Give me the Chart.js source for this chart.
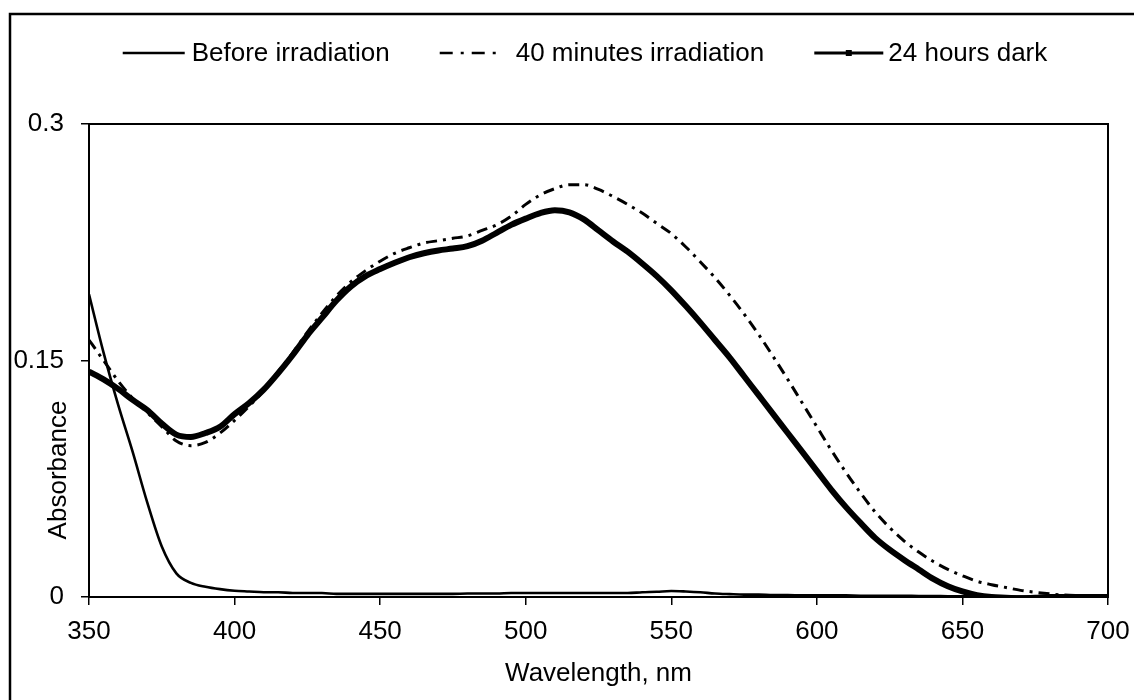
<!DOCTYPE html>
<html>
<head>
<meta charset="utf-8">
<script src="https://cdn.jsdelivr.net/npm/chart.js@4.4.0/dist/chart.umd.min.js"></script>
<style>
  html, body { margin: 0; padding: 0; background: #fff; }
  #wrap { width: 1134px; height: 700px; }
</style>
</head>
<body>
<div id="wrap"><canvas id="grafica" width="1134" height="700"></canvas></div>
<script>
// Longitudes de onda (nm)
const wavelengths = [
  350, 355, 360, 365, 370, 375, 380, 385, 390, 395,
  400, 405, 410, 415, 420, 425, 430, 435, 440, 445,
  450, 455, 460, 465, 470, 475, 480, 485, 490, 495,
  500, 505, 510, 515, 520, 525, 530, 535, 540, 545,
  550, 555, 560, 565, 570, 575, 580, 585, 590, 595,
  600, 605, 610, 615, 620, 625, 630, 635, 640, 645,
  650, 655, 660, 665, 670, 675, 680, 685, 690, 695, 700
];

const beforeIrradiation = [
  0.192, 0.155, 0.122, 0.092, 0.060, 0.032, 0.015, 0.009, 0.0065, 0.005,
  0.004, 0.0035, 0.003, 0.003, 0.0025, 0.0025, 0.0025, 0.002, 0.002, 0.002,
  0.002, 0.002, 0.002, 0.002, 0.002, 0.002, 0.0022, 0.0022, 0.0022, 0.0025,
  0.0025, 0.0025, 0.0025, 0.0025, 0.0025, 0.0025, 0.0025, 0.0025, 0.003, 0.0033,
  0.0038, 0.0035, 0.003, 0.0022, 0.0018, 0.0015, 0.0015, 0.0012, 0.0012, 0.001,
  0.001, 0.001, 0.001, 0.0008, 0.0008, 0.0008, 0.0008, 0.0006, 0.0006, 0.0005,
  0.0005, 0.0005, 0.0004, 0.0004, 0.0003, 0.0003, 0.0003, 0.0002, 0.0002, 0.0001, 0.0001
];

const minutes40 = [
  0.163, 0.150, 0.137, 0.126, 0.117, 0.108, 0.099, 0.096, 0.098, 0.104,
  0.112, 0.121, 0.131, 0.143, 0.155, 0.168, 0.180, 0.191, 0.200, 0.207,
  0.213, 0.218, 0.2215, 0.2245, 0.226, 0.2275, 0.229, 0.2325, 0.236, 0.2415,
  0.249, 0.255, 0.259, 0.2615, 0.2615, 0.2585, 0.254, 0.249, 0.2435, 0.237,
  0.2305, 0.222, 0.2125, 0.2025, 0.1915, 0.1795, 0.1665, 0.1525, 0.138, 0.123,
  0.108, 0.093, 0.079, 0.066, 0.054, 0.044, 0.0355, 0.0285, 0.0225, 0.0175,
  0.0135, 0.010, 0.0078, 0.006, 0.0042, 0.003, 0.002, 0.0012, 0.0008, 0.0005, 0.0003
];

const hours24Dark = [
  0.143, 0.138, 0.132, 0.125, 0.1186, 0.110, 0.103, 0.1015, 0.104, 0.108,
  0.116, 0.123, 0.1315, 0.142, 0.1535, 0.166, 0.177, 0.188, 0.197, 0.2035,
  0.208, 0.212, 0.2155, 0.218, 0.2198, 0.221, 0.2225, 0.226, 0.231, 0.236,
  0.240, 0.2435, 0.2453, 0.2440, 0.2395, 0.2325, 0.2255, 0.219, 0.2115, 0.2035,
  0.1945, 0.1845, 0.174, 0.163, 0.152, 0.140, 0.128, 0.116, 0.104, 0.092,
  0.080, 0.068, 0.057, 0.047, 0.0375, 0.030, 0.0235, 0.0175, 0.0115, 0.0068,
  0.0035, 0.0012, 0, -0.0004, -0.0008, -0.0004, 0, 0, 0, 0, 0
];

const seriesNames = ['Before irradiation', '40 minutes irradiation', '24 hours dark'];
const xTicks = [350, 400, 450, 500, 550, 600, 650, 700];
const yTicks = [0, 0.15, 0.3];
const xTitle = 'Wavelength, nm';
const yTitle = 'Absorbance';

const fuente = '"Liberation Sans", Arial, Helvetica, sans-serif';

function puntos(valores) {
  return wavelengths.map((w, i) => ({ x: w, y: valores[i] }));
}

// Marco exterior, marco del área, título Y y leyenda
const marcoPlugin = {
  id: 'marco',
  afterDraw(chart) {
    const ctx = chart.ctx;
    const a = chart.chartArea;
    ctx.save();
    ctx.strokeStyle = '#000';
    ctx.lineWidth = 2.5;
    ctx.beginPath();
    ctx.moveTo(10, 720);
    ctx.lineTo(10, 14);
    ctx.lineTo(1150, 14);
    ctx.stroke();

    ctx.lineWidth = 2;
    ctx.strokeRect(a.left, a.top, a.right - a.left, a.bottom - a.top);

    // título del eje Y
    ctx.fillStyle = '#000';
    ctx.font = '26px ' + fuente;
    ctx.save();
    ctx.translate(59, 470);
    ctx.rotate(-Math.PI / 2);
    ctx.textAlign = 'center';
    ctx.textBaseline = 'middle';
    ctx.fillText(yTitle, 0, 0);
    ctx.restore();

    // leyenda
    const largos = [62, 63, 69];
    const huecos = [7, 13, 5];
    const sep = 50;
    const anchos = seriesNames.map(t => ctx.measureText(t).width);
    let total = 0;
    anchos.forEach((w, i) => { total += largos[i] + huecos[i] + w; });
    total += sep * (seriesNames.length - 1);
    let x = 585 - total / 2;
    const y = 53;
    ctx.textAlign = 'left';
    ctx.textBaseline = 'middle';
    chart.data.datasets.forEach((ds, i) => {
      ctx.save();
      ctx.strokeStyle = '#000';
      ctx.lineWidth = i === 2 ? 3 : 2.5;
      ctx.setLineDash(i === 1 ? [13, 8, 3, 8] : []);
      ctx.beginPath();
      ctx.moveTo(x, y);
      ctx.lineTo(x + largos[i], y);
      ctx.stroke();
      if (i === 2) {
        ctx.fillStyle = '#000';
        ctx.fillRect(x + largos[i] / 2 - 3, y - 3, 6, 6);
      }
      ctx.restore();
      x += largos[i] + huecos[i];
      ctx.fillText(seriesNames[i], x, y + 1);
      x += anchos[i] + sep;
    });
    ctx.restore();
  }
};

const ctx = document.getElementById('grafica').getContext('2d');

new Chart(ctx, {
  type: 'line',
  data: {
    datasets: [
      {
        label: seriesNames[0],
        data: puntos(beforeIrradiation),
        borderColor: '#000',
        borderWidth: 2.6,
        pointRadius: 0,
        fill: false,
        cubicInterpolationMode: 'monotone'
      },
      {
        label: seriesNames[1],
        data: puntos(minutes40),
        borderColor: '#000',
        borderWidth: 3,
        borderDash: [11, 6, 3, 6],
        pointRadius: 0,
        fill: false,
        cubicInterpolationMode: 'monotone'
      },
      {
        label: seriesNames[2],
        data: puntos(hours24Dark),
        borderColor: '#000',
        borderWidth: 6,
        pointRadius: 0,
        fill: false,
        cubicInterpolationMode: 'monotone'
      }
    ]
  },
  options: {
    responsive: false,
    animation: false,
    layout: {
      padding: { top: 124, right: 26, bottom: 0, left: 0 }
    },
    plugins: {
      legend: { display: false },
      tooltip: { enabled: false }
    },
    scales: {
      x: {
        type: 'linear',
        min: 350,
        max: 700,
        afterBuildTicks: (scale) => { scale.ticks = xTicks.map(v => ({ value: v })); },
        afterFit: (scale) => {
          scale.height = 103;
          scale.paddingLeft = 0;
          scale.paddingRight = 0;
        },
        grid: { display: true, drawOnChartArea: false, drawTicks: true, tickLength: 8, color: '#000', lineWidth: 1.5 },
        border: { display: true, color: '#000', width: 2 },
        ticks: {
          color: '#000',
          padding: 11,
          maxRotation: 0,
          font: { family: fuente, size: 26 }
        },
        title: {
          display: true,
          text: xTitle,
          color: '#000',
          font: { family: fuente, size: 26 },
          padding: { top: 0, bottom: 11 }
        }
      },
      y: {
        type: 'linear',
        min: 0,
        max: 0.3,
        afterBuildTicks: (scale) => { scale.ticks = yTicks.map(v => ({ value: v })); },
        afterFit: (scale) => {
          scale.width = 89;
          scale.paddingTop = 0;
          scale.paddingBottom = 0;
        },
        grid: { display: true, drawOnChartArea: false, drawTicks: true, tickLength: 8, color: '#000', lineWidth: 1.5 },
        border: { display: true, color: '#000', width: 2 },
        ticks: {
          color: '#000',
          padding: 17,
          font: { family: fuente, size: 26 },
          callback: (v) => String(v)
        }
      }
    }
  },
  plugins: [marcoPlugin]
});
</script>
</body>
</html>
